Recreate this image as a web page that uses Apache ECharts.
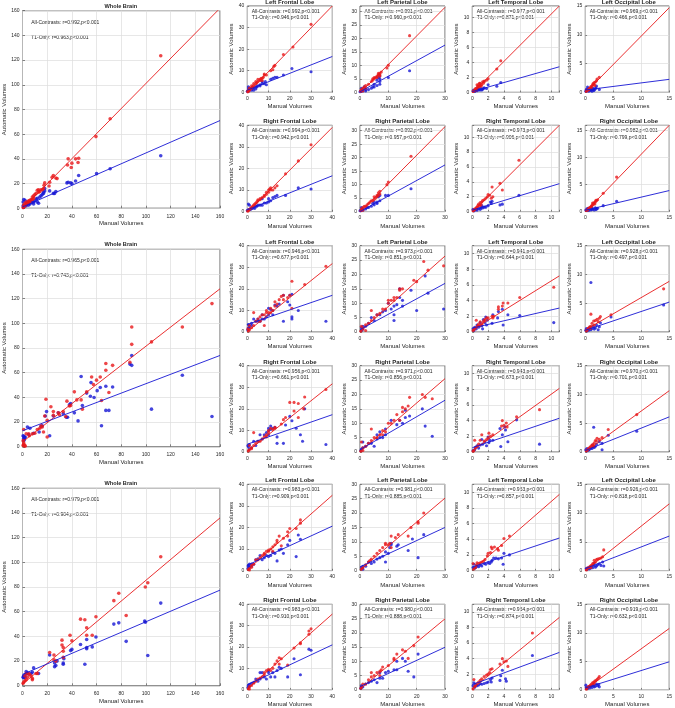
<!DOCTYPE html>
<html><head><meta charset="utf-8">
<script src="https://cdn.jsdelivr.net/npm/echarts@6/dist/echarts.min.js"></script>
<style>html,body{margin:0;padding:0;background:#fff}#c{width:675px;height:708px}</style>
</head><body><div id="c"></div><script>
// ---------- labels ----------
const regionKeys = ['WB','LF','LP','LT','LO','RF','RP','RT','RO'];
const regionTitles = ['Whole Brain','Left Frontal Lobe','Left Parietal Lobe','Left Temporal Lobe','Left Occipital Lobe','Right Frontal Lobe','Right Parietal Lobe','Right Temporal Lobe','Right Occipital Lobe'];
const xAxisName = 'Manual Volumes';
const yAxisName = 'Automatic Volumes';
// correlation values (order as regionKeys)
const rAll_row1 = [0.992,0.992,0.991,0.977,0.969,0.994,0.992,0.973,0.982];
const rT1_row1  = [0.963,0.946,0.960,0.871,0.466,0.942,0.957,0.906,0.799];
const rAll_row2 = [0.965,0.946,0.973,0.941,0.928,0.956,0.971,0.943,0.970];
const rT1_row2  = [0.743,0.677,0.851,0.644,0.497,0.661,0.856,0.673,0.701];
const rAll_row3 = [0.979,0.983,0.981,0.953,0.926,0.983,0.980,0.954,0.919];
const rT1_row3  = [0.904,0.909,0.885,0.857,0.818,0.910,0.888,0.874,0.632];
// axis scales (order as regionKeys)
const xMaxes = [160,40,30,11,15,40,30,11,15];
const xSteps = [20,10,10,2,5,10,10,2,5];
const ySteps = [20,10,5,2,5,10,5,2,5];
const yMax_row1 = [160,40,32,11.5,15,40,32,11.6,16];
const yMax_row2 = [160,40,30,11,15,40,30,11,15];
const yMax_row3 = [160,40,30,11,15,40,30,11,15];

// ---------- Row 1 ----------
const r1WB_all = [[112,123.5],[71,72.5],[59.5,58],[45.5,40.5],[45,37],[43,40],[40,36.5],[39.5,33],[37,40],[36.5,35],[28,24],[27,24.5],[25,26.5],[24,25],[22,21],[21.5,18],[18,20.5],[17.5,18.5],[17,16],[15,15],[14,13.5],[13,15],[12,14.5],[11,12],[10,11],[9,10],[9,8],[8,9],[7,7],[6,6.5],[5,5],[5,6],[4,4],[3,3.5],[3,5],[2,2],[2,4],[1,1],[1,2.5],[0.5,0.5],[6,5],[8,7],[13,13],[16,15]];
const r1WB_t1 = [[112,42.5],[71,32],[60,28],[45.5,26.5],[43,22],[40,20],[39,20.5],[37,21],[36,20.5],[27,13.5],[26,12],[25,12],[22,14],[18,14],[17,12],[16,11],[15,10],[14,9],[12,8],[11,7.5],[10,6],[9,5],[8,5],[7,4.5],[6,3.5],[5,4],[4,3.5],[3,3],[2,6.5],[1,7],[0.5,5],[2,2],[1,1],[3,2],[12,5],[13,4],[9,3.5],[5,2.5],[18,16],[17,13],[0.5,2],[4,5]];
const r1WB_fitAll = [[0,-0.5],[160,162]];
const r1WB_fitT1 = [[0,1],[160,71]];

const r1LF_all = [[30,31.5],[21.5,21],[17,17.5],[13,12.5],[12.5,12],[12,10.5],[11,10],[8,8.5],[8,8],[7.5,7],[7,6.5],[6,6],[6,5.5],[5,6],[5,5],[4.5,4.5],[4,5],[4,4],[3,4],[3,3],[2.5,2.5],[2,3],[2,2],[1.5,1.5],[1,2],[1,1],[0.5,1],[0.5,0.5],[0.2,0.2],[7,5.5],[9,8],[6.5,6.5]];
const r1LF_t1 = [[30,9.5],[21,11],[17,8],[14,7],[13,7],[12,6.5],[11,6],[8.5,5],[8,4],[7,4],[6,3.5],[6,3],[5,3],[4.5,2.5],[4,2.5],[3,2],[2.5,2],[2,2],[2,1],[1.5,1.5],[1,1],[1,2],[0.5,1.5],[0.5,0.5],[0.2,0.5],[0,0.5],[9,3.5],[4,1.5],[3,1],[0.5,2.5],[7,5]];
const r1LF_fitAll = [[0,-0.5],[40,40]];
const r1LF_fitT1 = [[0,1],[40,16.6]];

const r1LP_all = [[17.5,21],[10,10],[9.5,9],[7.5,7.5],[7,7],[7,6.5],[6.5,6.5],[6,6],[6,5.5],[5.5,5.5],[5,5.5],[5,5],[4.5,5],[4.5,4.5],[4,4],[3,3],[2,2.5],[1.5,2],[1,1.5],[1,0.5],[0.5,1],[0.2,0.5],[2,1.5],[7,6],[6.5,7]];
const r1LP_t1 = [[17.5,8],[10,5.5],[7,5],[7,4],[7,3],[6.5,5.5],[6,2.5],[6,4.5],[5,2],[5,3],[4.5,2],[4,1.5],[3,1],[2,1],[1.5,2],[1,1],[1,0.5],[0.5,1.5],[0.5,0.5],[0.3,0.5],[0,0.2],[7,6],[2,0.5]];
const r1LP_fitAll = [[0,-0.3],[30,31.5]];
const r1LP_fitT1 = [[0,0.2],[30,17.5]];

const r1LT_all = [[3.6,4.2],[3.1,3.1],[2,1.8],[1.8,1.6],[1.5,1.4],[1.5,1.5],[1.4,1.2],[1.3,1.4],[1.2,1.0],[1.1,0.8],[1,1.2],[1,0.9],[0.9,1.2],[0.9,0.8],[0.8,1.0],[0.8,0.7],[0.7,0.8],[0.6,0.6],[0.6,1.0],[0.5,0.5],[0.5,0.3],[0.4,0.5],[0.3,0.3],[0.2,0.2],[0.1,0.1]];
const r1LT_t1 = [[3.6,1.3],[3.1,0.8],[2,1],[1.8,0.5],[1.5,0.6],[1.4,0.5],[1.3,0.4],[1.2,0.3],[1.0,0.3],[0.9,0.4],[0.8,0.3],[0.7,0.5],[0.6,0.2],[0.5,0.3],[0.4,0.2],[0.3,0.1],[0.2,0.3],[0.1,0.2],[1.1,0.5],[0.6,0.4]];
const r1LT_fitAll = [[0,-0.1],[11,11.5]];
const r1LT_fitT1 = [[0,0.1],[11,3.4]];

const r1LO_all = [[2.5,2.6],[2.1,2.3],[2,2],[1.8,1.8],[1.7,1.2],[1.6,1.7],[1.5,1.4],[1.4,1.5],[1.3,1.3],[1.2,1.1],[1.1,0.8],[1,1],[0.9,0.8],[0.8,0.7],[0.7,0.6],[0.6,0.5],[0.5,0.4],[0.3,0.3],[0.2,0.2]];
const r1LO_t1 = [[2.5,0.5],[2,1.1],[1.9,0.8],[1.8,0.6],[1.6,0.4],[1.5,0.3],[1.4,0.7],[1.3,0.5],[1.2,0.2],[1,0.3],[0.9,0.5],[0.8,0.4],[0.6,0.2],[0.5,0.6],[0.4,0.9],[0.3,0.3],[0.2,0.5],[0.1,0.2]];
const r1LO_fitAll = [[0,-0.1],[15,14.7]];
const r1LO_fitT1 = [[0,0.4],[15,2.25]];

const r1RF_all = [[30,31],[24,23.5],[18,17.5],[14,12],[13,11],[12,10],[11,11],[10.5,10.5],[10,10],[10,9],[9,8],[8,7],[7,6.5],[6,6],[5,5],[5,5.5],[4.5,4.5],[4,4],[3.5,3.5],[3,3],[2.5,2.5],[2,2],[1.5,1.5],[1,1],[0.5,0.5],[0.2,0.2],[8,7.5],[6,5.5],[11,10],[9,9]];
const r1RF_t1 = [[30,10.5],[24,11],[18,7.5],[14,7.5],[13,7],[11,5],[10,4.5],[10,6],[9,4],[7,6],[7,3],[6,3],[5,3],[4.5,2.5],[4,2.5],[3,2],[2.5,1.5],[2,1.5],[1.5,1],[1,1],[1,3],[0.5,3.5],[0.5,1],[0.2,0.5],[0,0.5],[8,4],[12,6.5],[3.5,1.5]];
const r1RF_fitAll = [[0,-0.5],[40,39]];
const r1RF_fitT1 = [[0,0.8],[40,16.6]];

const r1RP_all = [[18,20.5],[10,11],[9.5,10],[7,7.5],[7,6.5],[6.5,7],[6.5,6],[6,6],[6,5.5],[5.5,5],[5,5.5],[5,4.5],[4.5,4],[4,4],[3.5,3.5],[3,3],[2,2],[1.5,2],[1,1.5],[0.5,1],[0.3,0.3],[1,0.5],[2.5,2.5]];
const r1RP_t1 = [[18,8.5],[10,6],[9,6],[7,6],[7,4],[6.5,5.5],[6,3.5],[6,3],[5,3.5],[5,2.5],[4,2],[3,1.5],[2,1],[1,1],[0.5,1.5],[0.3,0.5],[1,0.5],[4.5,3],[2.5,1.5],[0,0.3]];
const r1RP_fitAll = [[0,-0.3],[30,31.5]];
const r1RP_fitT1 = [[0,0],[30,17.3]];

const r1RT_all = [[5.9,6.9],[3.5,3.8],[3.8,2.9],[2.5,3.3],[2.6,2.0],[2.2,2.2],[2,2.3],[1.9,2.0],[2.4,1.8],[1.7,1.8],[1.5,1.6],[1.3,1.5],[1.2,1.3],[1.1,0.9],[1,1.2],[0.9,0.8],[0.8,1.0],[0.7,0.8],[0.6,0.6],[0.5,0.5],[0.4,0.4],[0.3,0.3],[0.2,0.2],[0.1,0.1]];
const r1RT_t1 = [[5.9,2.2],[3.5,0.9],[3.8,1],[2.5,1.4],[2.4,1.1],[2.3,1.3],[2,0.8],[1.7,0.6],[1.5,0.6],[1.3,0.5],[1.2,0.8],[1.1,0.5],[1,0.3],[0.8,0.4],[0.6,0.2],[0.5,0.3],[0.3,0.2],[0.2,0.1],[0.1,0.3]];
const r1RT_fitAll = [[0,-0.1],[11,11.6]];
const r1RT_fitT1 = [[0,0.2],[11,3.75]];

const r1RO_all = [[5.6,6.4],[3.2,3.4],[2.2,2.2],[2,2],[1.9,2.1],[1.8,1.8],[1.7,1.4],[1.6,1.7],[1.5,1.5],[1.4,1.3],[1.3,1.6],[1.2,1.2],[1.1,1.0],[1,0.9],[0.9,0.8],[0.7,0.7],[0.5,0.5],[0.4,0.3],[0.2,0.2]];
const r1RO_t1 = [[5.6,1.9],[3.2,1.1],[2.2,0.6],[2,0.5],[1.9,0.4],[1.8,0.7],[1.6,0.3],[1.4,0.5],[1.2,0.4],[1.1,0.8],[1,0.3],[0.8,0.5],[0.6,0.2],[0.5,0.6],[0.4,0.3],[0.3,0.5],[0.2,0.2],[0.1,0.3]];
const r1RO_fitAll = [[0,-0.1],[15,16]];
const r1RO_fitT1 = [[0,0.25],[15,3.9]];

// ---------- Row 2 ----------
const r2WB_all = [[153.5,116],[129.5,97],[104.5,85],[88.5,97],[88.5,83],[87,68.5],[73,66],[70,44],[67.5,67.5],[67.5,62],[64,37.5],[63,56.5],[60,54],[57.5,50.5],[56,56.5],[52,44.5],[48.5,30.5],[47.5,38],[44,38],[42,44.5],[39,33.5],[38,33],[36,37],[35,24.5],[33,28.5],[30,26],[29,27.5],[25,28.5],[25,25.5],[23,32.5],[20,8],[20,21.5],[19,38.5],[18,25],[17,12],[16,16],[15,17],[14,15],[12,14],[10,11],[8,10.5],[5.5,9],[5,10.5],[3,10.5],[2,1],[1,2],[1,14],[0.5,1],[1,3],[2,0.5],[0.5,5]];
const r2WB_t1 = [[153.5,24.5],[129.5,58],[104.5,30.5],[88.5,74],[88.5,66],[87,67],[73,48.5],[70,29.5],[67.5,49],[67.5,29.5],[64,17],[63,48],[60.5,45.5],[58,40],[55.5,52],[55,41],[52,43.5],[48.5,33.5],[47.5,57],[45,21],[42,27.5],[39,35],[38,34],[36.5,24],[35.5,24],[33,27],[29,27.5],[25,25],[22,9],[19.5,28.5],[18.5,25],[16,17],[15,16.5],[13.5,12],[9,11],[6,15],[5,10],[4,16],[2,8],[1,8.5],[1,7],[1,5],[0.5,9],[2,7.5],[1.5,6]];
const r2WB_fitAll = [[0,4],[160,128]];
const r2WB_fitT1 = [[0,13],[160,74]];

const r2LF_all = [[37,30.5],[27,22],[21,23.5],[21,11],[20,17],[19,16],[17,17],[16,16.5],[15,15],[14,13],[13,12],[13,14],[12,10],[11,11],[11,9],[10,9],[9,10],[9,9],[8,3],[8,8],[7,8],[6,7],[6,5],[5,6],[4,5],[3,9],[3,3],[2,2],[1,1],[0.5,0.5],[1,3],[17,15],[0.3,1.5]];
const r2LF_t1 = [[37,5],[24,10],[21,17.5],[21,7],[21,6],[20,12.5],[17,5],[15,13],[14,12],[13,12.5],[12,10],[11,10.5],[10,11],[10,8],[9,7],[8,6],[7,8],[6,5],[5,6],[4,5],[3,6],[2,4],[1,3],[0.5,2],[0.5,3.5],[1,2],[2,3],[5,5],[7,6],[12,8],[17,17],[19,14],[20,17],[0.2,1]];
const r2LF_fitAll = [[0,0.2],[40,31.7]];
const r2LF_fitT1 = [[0,3.5],[40,17]];

const r2LP_all = [[29.5,23],[24,21.5],[22.5,24.5],[20,17.5],[19,18],[15,15],[14,14.5],[14,15],[13,12],[12,11],[12,12],[11,11],[10,10],[10,11],[9,8],[8,8],[7,6.5],[6,6],[5,5],[4,7.5],[4,4],[3,3],[2,2.5],[1,1.5],[0.5,2],[2,0.5],[1,1],[0.3,0.3]];
const r2LP_t1 = [[29.5,8],[24,13.5],[23,19.5],[20,7.5],[18,14.5],[15,11],[15,9],[14,12],[13,9.5],[12,4],[12,6],[12,9],[11,8],[10,10],[9,7.5],[8,7],[7,6],[6,6],[5,4],[4,5],[3,3],[2,2],[1,1],[0.5,0.5],[0.5,1.5],[1,2],[14,15]];
const r2LP_fitAll = [[0,0.1],[30,26.4]];
const r2LP_fitT1 = [[0,0.8],[30,16.9]];

const r2LT_all = [[10.3,5.7],[6,4.4],[4.5,3.7],[3.9,3.7],[3.8,3.3],[3.3,3.2],[3.3,2.9],[2.7,2.0],[2.6,1.8],[2.5,2.0],[2,1.8],[1.8,1.8],[1.6,1.6],[1.5,1.5],[1.4,1.3],[1.2,1.0],[1,1.3],[1,0.8],[0.8,1.0],[0.7,0.8],[0.6,0.7],[0.5,1.5],[0.4,0.5],[0.2,0.3],[0.1,0.2]];
const r2LT_t1 = [[10.3,1.2],[6,2.1],[4.5,2.2],[3.9,0.9],[3.8,2.9],[3.3,2.6],[3.2,1.8],[2.6,2.2],[2.5,1.1],[1.9,1.5],[1.8,0.9],[1.7,1.9],[1.6,1.2],[1.4,1.6],[1.3,0.4],[1.2,0.8],[1,1.2],[0.8,0.6],[0.6,0.9],[0.5,0.4],[0.3,0.6],[0.2,0.2],[0.1,0.4]];
const r2LT_fitAll = [[0,0.25],[11,7.15]];
const r2LT_fitT1 = [[0,0.5],[11,3.05]];

const r2LO_all = [[14,7.5],[4.6,3],[2.7,2.7],[2.5,2.4],[2.3,1.8],[2.1,2.2],[1.8,2],[1.6,1.2],[1.5,1.9],[1.2,1.5],[1,3.1],[1,1],[0.9,0.6],[0.8,0.9],[0.6,0.7],[0.5,0.6],[0.3,0.3],[0.2,0.2]];
const r2LO_t1 = [[14,4.7],[1,8.6],[4.6,2.6],[2.7,1.6],[2.5,0.9],[2.3,0.4],[2,1.2],[1.8,0.7],[1.6,0.5],[1.4,1.0],[1.2,0.6],[1,0.4],[0.8,0.8],[0.6,0.3],[0.5,0.5],[0.3,0.2],[0.2,0.6],[0.1,0.3]];
const r2LO_fitAll = [[0,0.35],[15,8.8]];
const r2LO_fitT1 = [[0,0.3],[15,5.2]];

const r2RF_all = [[37,29],[27,25.5],[26.5,20],[24,16],[24,22.5],[22,23],[20,23],[22,19],[18,16],[17,15],[16,13],[13,11],[12,10.5],[11,11],[10,10],[10,9],[9,8],[9,7],[8,7],[7,6],[6,5],[5,5],[4,4],[3,9],[3,3],[2,2],[2,1.5],[1,1],[1,3],[0.5,0.5],[13,11.5]];
const r2RF_t1 = [[37,3.5],[27,20],[26,5],[25,8],[23,11],[21,14.5],[20,16.5],[18,12.5],[17,4],[14,4],[14,7],[13,11.5],[12,11],[11,10.5],[11,12],[10,10],[10,11],[10,8],[9,9],[8,8],[7,6],[6,8],[5,5],[4,3],[3,5],[2,2],[1,3.5],[0.5,2.5],[1,1.5],[0.3,3]];
const r2RF_fitAll = [[0,0.2],[40,31.6]];
const r2RF_fitT1 = [[0,3.6],[40,17.3]];

const r2RP_all = [[25.5,18.5],[23,19],[22,20],[17.5,19],[17,16],[16,15],[15,15.5],[15,14],[14,11],[13,13],[12,11],[11,10],[10,10],[9,7],[8,7.5],[8,6],[7,6],[6,5],[5,5],[4,8],[4,4],[3,3],[2,2],[1,1.5],[0.5,3.5],[1,0.5],[0.3,0.3]];
const r2RP_t1 = [[25.5,5.5],[23,9],[22,15],[17.5,12.5],[16,14.5],[16,12],[15,10],[14,11],[13,9.5],[11,11],[9,6],[9,8],[8,5],[7,5],[7,7],[6,4.5],[6,6],[5,2],[4,3],[3,3],[2,2],[1,1.5],[1,3.5],[0.5,1],[0.3,0.5]];
const r2RP_fitAll = [[0,0.1],[30,25.5]];
const r2RP_fitT1 = [[0,0.8],[30,18]];

const r2RT_all = [[8.5,5.4],[5.6,4.5],[4.4,3.2],[4.3,3.7],[4,3.4],[3.8,4.0],[3.7,3.3],[2.6,2.2],[2.3,2.0],[2.1,2.4],[2,1.8],[1.8,1.6],[1.5,1.4],[1.2,2.2],[1,1.5],[0.8,1.0],[0.6,0.7],[0.4,0.5],[0.3,1.5],[0.2,0.2],[0.1,0.1]];
const r2RT_t1 = [[8.5,1],[5.6,4.1],[4.5,1.3],[4.2,2.8],[4.1,3.2],[3.8,2.2],[3.6,0.7],[3.5,3.0],[2.6,1.5],[2.2,1.5],[2.1,1.2],[2,1.9],[1.8,0.8],[1.6,1.3],[1.3,1.0],[1.2,1.6],[1,0.9],[0.8,0.5],[0.6,0.8],[0.4,0.6],[0.3,0.3],[0.1,0.2]];
const r2RT_fitAll = [[0,0.15],[11,8.1]];
const r2RT_fitT1 = [[0,0.55],[11,4.3]];

const r2RO_all = [[9.2,6.5],[4.1,3.9],[3,2.5],[2.5,2.2],[2.1,2.4],[2,1.9],[1.8,2.0],[1.6,1.6],[1.5,1.0],[1.4,1.3],[1.2,1.2],[1,1.0],[0.8,0.8],[0.6,0.6],[0.5,0.5],[0.3,0.3],[0.2,0.2]];
const r2RO_t1 = [[9.2,3.6],[1.5,4.3],[4.1,2.9],[3,1.5],[3,0.4],[2.5,1.8],[2,1.4],[1.8,1.0],[1.6,0.8],[1.4,0.9],[1.3,1.2],[1.2,0.6],[1,0.7],[0.8,0.5],[0.6,0.4],[0.5,0.3],[0.3,0.6],[0.2,0.2],[0.1,0.4]];
const r2RO_fitAll = [[0,0.05],[15,10.65]];
const r2RO_fitT1 = [[0,0.25],[15,6.1]];

// ---------- Row 3 ----------
const r3WB_all = [[112,104.5],[101.5,83.5],[99.5,80],[84,57],[78,75],[74,69],[59.5,56],[56.5,41],[52,47],[52,41],[50.5,53.5],[47,54],[40,36.5],[38.5,41],[33,31],[32,37],[32,33],[33,28],[33,23],[27,20],[25.5,25],[25.5,21],[22,27],[12,10],[11,10],[8,6],[7,8],[6,9],[5,10],[3,10],[2,4],[1,3],[2,8],[3,5],[4,7],[8,5],[0.5,2]];
const r3WB_t1 = [[112,67],[101.5,24.5],[99,52.5],[99.5,51.5],[84,36],[78,51],[74,50],[59.5,39.5],[56.5,31.5],[52,37.5],[52,31],[52,30],[50.5,17.5],[47,33.5],[40,29.5],[39,28.5],[33.5,22],[33,17.5],[33,18.5],[28,20],[27,16.5],[26,15.5],[26,18.5],[22,25],[13,10],[9,14.5],[8,11],[7,10],[5,9.5],[3,10],[3,11.5],[2,9],[1,7.5],[1,6.5],[2,7],[0.5,7],[1,8],[4,10.5]];
const r3WB_fitAll = [[0,1.3],[160,136]];
const r3WB_fitT1 = [[0,9.2],[160,77.5]];

const r3LF_all = [[25,23.5],[25,22],[23,19.5],[20,19.5],[19,18],[19,16],[17,15],[16,11.5],[15,16],[14,14],[14,13],[13,12],[12,11],[12,9],[11,10],[10,9],[10,9.5],[9,9],[8,8],[8,7.5],[7,7],[6,6],[5,5],[4,5],[3,3],[2,2.5],[2,1.5],[1,1],[1,0.3],[0.5,0.5]];
const r3LF_t1 = [[25,14.5],[24,16.5],[23,6.5],[20,14],[19,12],[17,8],[16,10],[15,9.5],[14,4.5],[13,8],[12,8.5],[11,7],[10,6.5],[9,7],[8,6],[7,5],[6,7],[5,5.5],[4,5],[3,3],[2,3],[2,2],[1,3],[1,1.5],[0.5,2],[0.5,2.5],[0.3,1]];
const r3LF_fitAll = [[0,0.3],[40,34.9]];
const r3LF_fitT1 = [[0,2.5],[40,20.6]];

const r3LP_all = [[22.5,20],[20.5,17],[20.5,16.5],[18,15],[17,12],[13.5,12.5],[12.5,11.5],[11,12],[11,8],[10.5,9.5],[10,9],[9,9],[9,9.5],[8,8],[7,7],[6,6],[5,5],[4,4],[3.5,3.5],[3,3],[2,2],[1,1],[0.5,0.5]];
const r3LP_t1 = [[22.5,12.5],[20.5,4.5],[18.5,11],[17,7],[13.5,9],[13,8.5],[11,9],[11,9.5],[10.5,8],[10,6],[9,6.5],[9,3],[8,5],[7,4.5],[6,4],[5,3],[4,2.5],[3,3],[2,1.5],[1,1.5],[0.5,1],[1,0.5]];
const r3LP_fitAll = [[0,0.2],[30,25.2]];
const r3LP_fitT1 = [[0,1.3],[30,15]];

const r3LT_all = [[4.7,4.4],[4,4.1],[3.7,3.2],[3.3,2.6],[3.2,2.8],[2.8,3.0],[2.5,2.8],[2.4,3.0],[2.3,2.3],[2,2.2],[1.9,1.9],[1.6,1.4],[1.4,1.2],[1.2,1.1],[1,1.0],[0.8,0.9],[0.6,1.0],[0.5,0.7],[0.4,0.4],[0.2,0.2],[0.1,0.9]];
const r3LT_t1 = [[4.7,2],[4,2.2],[3.9,0.8],[3.7,1.6],[3.3,1.5],[3,1.6],[2.7,1.6],[2.5,1.3],[2.4,1.1],[2.2,0.9],[2,1.0],[1.7,0.8],[1.5,0.9],[1.2,0.6],[1,0.7],[0.8,0.5],[0.6,0.6],[0.4,0.4],[0.3,0.3],[0.2,0.8],[0.1,0.4]];
const r3LT_fitAll = [[0,0.05],[11,9.7]];
const r3LT_fitT1 = [[0,0.45],[11,4.15]];

const r3LO_all = [[3.3,3.6],[3.1,2.4],[2.8,2.2],[2.5,2.1],[2.2,2.0],[2,1.9],[1.8,1.5],[1.6,1.8],[1.5,1.3],[1.3,1.2],[1.1,0.9],[1,0.5],[0.9,0.8],[0.7,0.6],[0.5,0.5],[0.3,0.3],[0.2,0.1]];
const r3LO_t1 = [[3.3,0.8],[3.1,1.5],[2.8,0.9],[2.5,1.2],[2.2,1.0],[2,0.8],[1.8,0.6],[1.6,1.3],[1.5,0.9],[1.3,0.5],[1.1,0.7],[0.9,0.4],[0.7,0.3],[0.5,0.5],[0.3,0.2],[0.2,0.4]];
const r3LO_fitAll = [[0,0],[15,11.6]];
const r3LO_fitT1 = [[0,0.35],[15,6]];

const r3RF_all = [[30,28.5],[29,27.5],[29,26],[25,21.5],[25,22],[22,19.5],[19,11.5],[16,14.5],[15,15],[15,12],[14,13.5],[13,12],[12,10],[11,9],[10,9.5],[9,9],[8,8],[8,7],[7,6],[6,5.5],[5,5],[4,4],[3,3],[2,2],[1,1.5],[1,0.3],[0.5,0.5]];
const r3RF_t1 = [[30,18.5],[29,19],[25,7],[22,14.5],[19,6],[16,10],[15,10.5],[14,9],[13,6],[12,8],[11,6],[10,9],[10,8],[9,5],[8,6],[7,8],[6,8],[6,5],[5,4],[4,5],[3,3.5],[2,3],[1,2.5],[0.5,2],[1,1.5],[0.3,1]];
const r3RF_fitAll = [[0,0.3],[40,35.4]];
const r3RF_fitT1 = [[0,2.3],[40,21]];

const r3RP_all = [[20.5,18.5],[19,15.5],[17,11],[16,13.5],[15,14],[13,12.5],[12,11],[12,10.5],[10,8.5],[8,8],[7.5,7],[7,6.5],[7,5],[6,6],[5,5],[4,6],[4,4.5],[3,3.5],[2,2],[1,2],[0.5,1],[0.3,0.5]];
const r3RP_t1 = [[20.5,12.5],[19,4.5],[17,6.5],[16,10],[15,11],[13,10],[13,7],[12,7],[10,6.5],[9,6],[8,4],[7,4],[7,6],[6,2.5],[5,3.5],[4,3],[3,2.5],[2,2],[1,1],[0.5,1.5],[0.3,0.5]];
const r3RP_fitAll = [[0,0.2],[30,24.9]];
const r3RP_fitT1 = [[0,1.1],[30,14.9]];

const r3RT_all = [[7.6,7.3],[4.5,3.0],[4.3,3.7],[4,3.6],[3.8,4.0],[3.5,3.3],[2.5,2.7],[2.3,2.6],[2.2,2.2],[2,2.0],[1.8,1.9],[1.5,1.7],[1.2,1.4],[1,1.2],[0.8,1.0],[0.6,0.8],[0.4,0.5],[0.3,0.4],[0.2,1.3],[0.1,0.1]];
const r3RT_t1 = [[7.6,4.4],[4.3,1.1],[4.2,1.4],[3.8,2.5],[3.6,1.8],[3.5,1.2],[2.5,1.5],[2.4,1.0],[2.3,1.3],[2,1.0],[1.8,0.9],[1.5,0.8],[1.2,0.7],[1,0.8],[0.8,0.6],[0.6,0.5],[0.4,0.7],[0.3,0.3],[0.2,0.9],[0.1,0.5]];
const r3RT_fitAll = [[0,0.1],[11,9.3]];
const r3RT_fitT1 = [[0,0.65],[11,4.8]];

const r3RO_all = [[2.5,2.3],[2.3,2.0],[2.1,1.8],[1.9,1.6],[1.7,1.5],[1.6,1.0],[1.5,1.3],[1.3,1.2],[1.1,1.0],[0.9,0.8],[0.7,0.6],[0.5,0.5],[0.3,0.3],[0.2,0.1]];
const r3RO_t1 = [[2.5,0.5],[2.4,0.9],[2.2,0.7],[2,1.0],[1.8,0.6],[1.6,0.5],[1.4,0.8],[1.2,0.4],[1,0.6],[0.8,0.3],[0.6,0.5],[0.4,0.2],[0.2,0.4],[0.1,0.8]];
const r3RO_fitAll = [[0,0.05],[15,10.75]];
const r3RO_fitT1 = [[0,0.3],[15,4.9]];

// ---------- assemble ----------
const rowSeries = [
  {WB:[r1WB_all,r1WB_t1,r1WB_fitAll,r1WB_fitT1],LF:[r1LF_all,r1LF_t1,r1LF_fitAll,r1LF_fitT1],LP:[r1LP_all,r1LP_t1,r1LP_fitAll,r1LP_fitT1],LT:[r1LT_all,r1LT_t1,r1LT_fitAll,r1LT_fitT1],LO:[r1LO_all,r1LO_t1,r1LO_fitAll,r1LO_fitT1],RF:[r1RF_all,r1RF_t1,r1RF_fitAll,r1RF_fitT1],RP:[r1RP_all,r1RP_t1,r1RP_fitAll,r1RP_fitT1],RT:[r1RT_all,r1RT_t1,r1RT_fitAll,r1RT_fitT1],RO:[r1RO_all,r1RO_t1,r1RO_fitAll,r1RO_fitT1]},
  {WB:[r2WB_all,r2WB_t1,r2WB_fitAll,r2WB_fitT1],LF:[r2LF_all,r2LF_t1,r2LF_fitAll,r2LF_fitT1],LP:[r2LP_all,r2LP_t1,r2LP_fitAll,r2LP_fitT1],LT:[r2LT_all,r2LT_t1,r2LT_fitAll,r2LT_fitT1],LO:[r2LO_all,r2LO_t1,r2LO_fitAll,r2LO_fitT1],RF:[r2RF_all,r2RF_t1,r2RF_fitAll,r2RF_fitT1],RP:[r2RP_all,r2RP_t1,r2RP_fitAll,r2RP_fitT1],RT:[r2RT_all,r2RT_t1,r2RT_fitAll,r2RT_fitT1],RO:[r2RO_all,r2RO_t1,r2RO_fitAll,r2RO_fitT1]},
  {WB:[r3WB_all,r3WB_t1,r3WB_fitAll,r3WB_fitT1],LF:[r3LF_all,r3LF_t1,r3LF_fitAll,r3LF_fitT1],LP:[r3LP_all,r3LP_t1,r3LP_fitAll,r3LP_fitT1],LT:[r3LT_all,r3LT_t1,r3LT_fitAll,r3LT_fitT1],LO:[r3LO_all,r3LO_t1,r3LO_fitAll,r3LO_fitT1],RF:[r3RF_all,r3RF_t1,r3RF_fitAll,r3RF_fitT1],RP:[r3RP_all,r3RP_t1,r3RP_fitAll,r3RP_fitT1],RT:[r3RT_all,r3RT_t1,r3RT_fitAll,r3RT_fitT1],RO:[r3RO_all,r3RO_t1,r3RO_fitAll,r3RO_fitT1]}
];
const rowRAll = [rAll_row1, rAll_row2, rAll_row3];
const rowRT1 = [rT1_row1, rT1_row2, rT1_row3];
const rowYMax = [yMax_row1, yMax_row2, yMax_row3];

// layout (px)
const BIG = {left: 21.7, width: 198.3, height: 197.5, tops: [10.7, 249.3, 488.3]};
const SMALL_LEFTS = [247.3, 360, 472.3, 585.3];
const SMALL_WIDTHS = [85, 85, 87, 87];
const SMALL_TOPS = [[6, 125.3], [245.7, 365.7], [484.3, 604.3]];
const SMALL_H = 86.3;
const smallPos = {LF:[0,0], LP:[1,0], LT:[2,0], LO:[3,0], RF:[0,1], RP:[1,1], RT:[2,1], RO:[3,1]};

const RED = '#e8181a', BLUE = '#1616d4', TXT = '#262626';
const FONT = '"Liberation Sans", Arial, Helvetica, sans-serif';

const grids = [], xAxes = [], yAxes = [], series = [], graphics = [];
function fmt(step){ return v => (Math.abs(v/step - Math.round(v/step)) < 1e-6 ? String(v) : ''); }

let gi = 0;
for (let r = 0; r < 3; r++) {
  regionKeys.forEach((key, k) => {
    const big = key === 'WB';
    let left, top, width, height;
    if (big) { left = BIG.left; top = BIG.tops[r]; width = BIG.width; height = BIG.height; }
    else {
      const [c, s] = smallPos[key];
      left = SMALL_LEFTS[c]; width = SMALL_WIDTHS[c]; top = SMALL_TOPS[r][s]; height = SMALL_H;
    }
    grids.push({left, top, width, height, show: true, borderColor: '#3a3a3a', borderWidth: 0.8, backgroundColor: '#fff', containLabel: false});
    const common = {
      gridIndex: gi, type: 'value', min: 0,
      axisLine: {show: false},
      axisTick: {show: true, inside: true, length: big ? 2.5 : 1.8, lineStyle: {color: '#3a3a3a', width: 0.6}},
      splitLine: {show: true, lineStyle: {color: '#dddddd', width: 0.7}},
      nameLocation: 'middle',
      nameTextStyle: {fontSize: 6, color: TXT, fontFamily: FONT}
    };
    xAxes.push(Object.assign({}, common, {
      max: xMaxes[k], interval: xSteps[k], name: xAxisName, nameGap: big ? 12.3 : 11.3,
      axisLabel: {fontSize: 5, color: TXT, fontFamily: FONT, margin: big ? 5.5 : 4, formatter: fmt(xSteps[k]), showMaxLabel: true}
    }));
    yAxes.push(Object.assign({}, common, {
      max: rowYMax[r][k], interval: ySteps[k], name: yAxisName, nameGap: big ? 15.5 : 12.5,
      axisLabel: {fontSize: 5, color: TXT, fontFamily: FONT, margin: 3, formatter: fmt(ySteps[k])}
    }));
    const [allPts, t1Pts, fitAll, fitT1] = rowSeries[r][key];
    series.push({type: 'scatter', xAxisIndex: gi, yAxisIndex: gi, data: t1Pts, symbolSize: big ? 3.6 : 3.1, itemStyle: {color: BLUE}, silent: true});
    series.push({type: 'scatter', xAxisIndex: gi, yAxisIndex: gi, data: allPts, symbolSize: big ? 3.6 : 3.1, itemStyle: {color: RED}, silent: true});
    series.push({type: 'line', xAxisIndex: gi, yAxisIndex: gi, data: fitAll, showSymbol: false, symbol: 'none', clip: true, lineStyle: {color: RED, width: 0.9}, silent: true});
    series.push({type: 'line', xAxisIndex: gi, yAxisIndex: gi, data: fitT1, showSymbol: false, symbol: 'none', clip: true, lineStyle: {color: BLUE, width: 0.9}, silent: true});

    // title
    graphics.push({type: 'text', x: left + width / 2, y: top - (big ? 4.5 : 3.6), silent: true,
      style: {text: regionTitles[k], font: 'bold ' + (big ? 5.6 : 6) + 'px ' + FONT, fill: TXT,
        textAlign: 'center', textVerticalAlign: 'middle', align: 'center', verticalAlign: 'middle'}});
    // annotations
    const l1 = 'All-Contrasts: r=' + rowRAll[r][k].toFixed(3) + ',p<0.001';
    const l2 = 'T1-Only: r=' + rowRT1[r][k].toFixed(3) + ',p<0.001';
    const ax = left + (big ? 9.5 : 4.4);
    const ay1 = top + (big ? 11.8 : 5.8), ay2 = top + (big ? 26.5 : 12);
    [[l1, ay1], [l2, ay2]].forEach(([t, y]) => graphics.push({type: 'text', x: ax, y, silent: true,
      style: {text: t, font: '5px ' + FONT, fill: TXT, textAlign: 'left', textVerticalAlign: 'middle', align: 'left', verticalAlign: 'middle'}}));
    gi++;
  });
}

const chart = echarts.init(document.getElementById('c'), null, {renderer: 'canvas', width: 675, height: 708});
chart.setOption({
  animation: false,
  backgroundColor: '#fff',
  grid: grids, xAxis: xAxes, yAxis: yAxes, series,
  graphic: {elements: graphics}
});
</script></body></html>
